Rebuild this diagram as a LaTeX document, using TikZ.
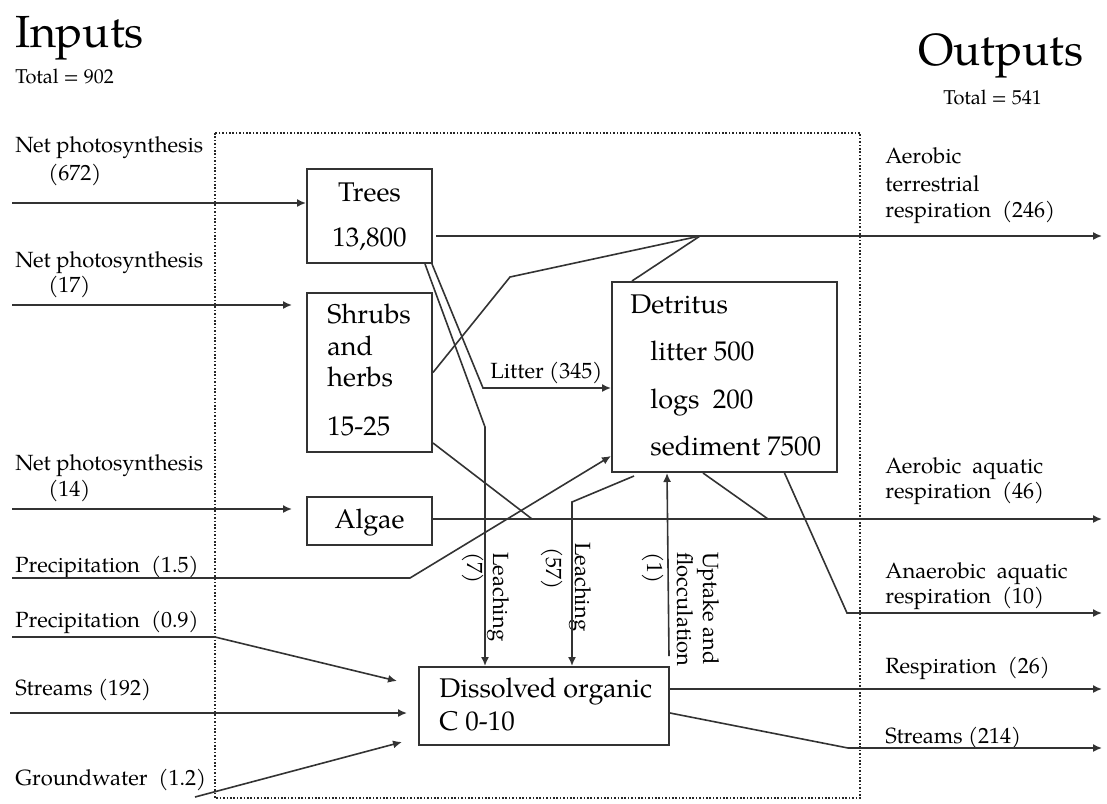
\documentclass[tikz,border=0pt]{standalone}
\usepackage{fontspec}
\setmainfont{texgyrepagella}[Extension=.otf, UprightFont=*-regular, BoldFont=*-bold, ItalicFont=*-italic, BoldItalicFont=*-bolditalic]
\usetikzlibrary{arrows.meta,calc}
\begin{document}
\begin{tikzpicture}[x=0.5pt,y=-0.5pt,
  line/.style={draw=black!80, line width=0.8pt},
  arr/.style={line, -{Latex[length=4.5pt,width=4pt]}},
  box/.style={draw=black!80, line width=1pt, inner sep=0pt, rectangle},
  lbl/.style={font=\fontsize{11}{13}\selectfont, anchor=base west, inner sep=0pt},
  boxtxt/.style={font=\fontsize{13.5}{16}\selectfont, inner sep=0pt},
  vlbl/.style={font=\fontsize{11}{13}\selectfont, rotate=-90, anchor=base west, inner sep=0pt},
]
\useasboundingbox (0,0) rectangle (1107,803);

% titles
\node[font=\fontsize{22.5}{26}\selectfont, anchor=base west, inner sep=0pt] (inputs) at (15,47) {Inputs};
\node[font=\fontsize{10}{12}\selectfont, anchor=base west, inner sep=0pt] (intot) at (15,83) {Total = 902};
\node[font=\fontsize{22.5}{26}\selectfont, anchor=base west, inner sep=0pt] (outputs) at (918,65) {Outputs};
\node[font=\fontsize{10}{12}\selectfont, anchor=base west, inner sep=0pt] (outtot) at (943,104) {Total = 541};

% system boundary
\draw[dash pattern=on 0.8pt off 0.9pt, line width=1.1pt, black!85] (215,133) rectangle (860,798);

% boxes
\node[box, minimum width=62.5pt, minimum height=47pt] (trees) at (369.5,216) {};
\node[box, minimum width=62.5pt, minimum height=79.5pt] (shrubs) at (369.5,372.5) {};
\node[box, minimum width=62.5pt, minimum height=24pt] (algae) at (369.5,521) {};
\node[box, minimum width=112.5pt, minimum height=95pt] (detritus) at (724.5,377) {};
\node[box, minimum width=125pt, minimum height=39pt] (doc) at (544,706) {};

% box texts
\node[boxtxt] (treesT) at (369.5,192) {Trees};
\node[boxtxt, anchor=base] (treesN) at (369.5,246) {13,800};
\node[boxtxt, anchor=base west] (shT1) at (327,323) {Shrubs};
\node[boxtxt, anchor=base west] (shT2) at (327,355) {and};
\node[boxtxt, anchor=base west] (shT3) at (327,386) {herbs};
\node[boxtxt, anchor=base west] (shT4) at (327,435) {15-25};
\node[boxtxt, anchor=base] (algT) at (369.5,528) {Algae};
\node[boxtxt, anchor=base west] (deT1) at (630,313) {Detritus};
\node[boxtxt, anchor=base west] (deT2) at (650,360) {litter 500};
\node[boxtxt, anchor=base west] (deT3) at (650,408) {logs\ \ 200};
\node[boxtxt, anchor=base west] (deT4) at (650,455) {sediment 7500};
\node[boxtxt, anchor=base west] (docT1) at (439,697) {Dissolved organic};
\node[boxtxt, anchor=base west] (docT2) at (439,730) {C 0-10};

% input labels
\node[lbl] (l1a) at (15,152) {Net photosynthesis};
\node[lbl] (l1b) at (48,180) {(672)};
\node[lbl] (l2a) at (15,267) {Net photosynthesis};
\node[lbl] (l2b) at (48,292) {(17)};
\node[lbl] (l3a) at (15,470) {Net photosynthesis};
\node[lbl] (l3b) at (48,496) {(14)};
\node[lbl] (l4) at (15,572) {Precipitation\ \ (1.5)};
\node[lbl] (l5) at (15,627) {Precipitation\ \ (0.9)};
\node[lbl] (l6) at (15,695) {Streams (192)};
\node[lbl] (l7) at (15,785) {Groundwater\ \ (1.2)};

% output labels
\node[lbl] (o1a) at (885,163) {Aerobic};
\node[lbl] (o1b) at (885,191) {terrestrial};
\node[lbl] (o1c) at (885,217) {respiration\ \ (246)};
\node[lbl] (o2a) at (885,473) {Aerobic\ \ aquatic};
\node[lbl] (o2b) at (885,498) {respiration\ \ (46)};
\node[lbl] (o3a) at (885,578) {Anaerobic\ \ aquatic};
\node[lbl] (o3b) at (885,603) {respiration\ \ (10)};
\node[lbl] (o4) at (885,673) {Respiration\ \ (26)};
\node[lbl] (o5) at (885,743) {Streams (214)};

% internal labels
\node[lbl] (litter) at (490,378) {Litter (345)};
\node[vlbl] (le7a) at (467,552) {(7)};
\node[vlbl] (le7b) at (493,552) {Leaching};
\node[vlbl] (le57a) at (546,547) {(57)};
\node[vlbl] (le57b) at (575,542) {Leaching};
\node[vlbl] (up1) at (647,552) {(1)};
\node[vlbl] (up2) at (677,552) {flocculation};
\node[vlbl] (up3) at (703,552) {Uptake and};

% free ends
\coordinate (in1) at (12,203);
\coordinate (in2) at (12,305);
\coordinate (in3) at (12,509);
\coordinate (in4) at (12,578);
\coordinate (in5) at (12,637);
\coordinate (in6) at (10,713);
\coordinate (in7) at (195,797);
\coordinate (out1) at (1102,236);
\coordinate (out2) at (1102,519);
\coordinate (out3) at (1102,613);
\coordinate (out4) at (1102,689);
\coordinate (out5) at (1102,748);
\coordinate (j1) at (700,236);

% inputs
\draw[arr] (in1) -- (in1 -| trees.west);
\draw[arr, shorten >=7pt] (in2) -- (in2 -| shrubs.west);
\draw[arr, shorten >=7pt] (in3) -- (in3 -| algae.west);
\draw[arr] (in4) -- (410,578) -- ($(detritus.south west)+(0,-17)$);
\draw[arr] (in5) -- (215,637) -- ($(doc.north west)+(-21,15)$);
\draw[arr, shorten >=5.5pt] (in6) -- (in6 -| doc.west);
\draw[arr] (in7) -- ($(doc.south west)+(-16,-4)$);

% internal flows and outputs
\draw[arr] ($(trees.east)+(3,20)$) -- (out1);
\draw[line] (shrubs.east) -- (510,277) -- (j1);
\draw[line] ($(detritus.north west)+(21,0)$) -- (j1);
\draw[arr] ($(trees.south east)+(-1,0)$) -- (483,388) -- ($(detritus.west)+(0,11)$);
\draw[arr] ($(trees.south east)+(-8,0)$) -- (485,427) -- ($(doc.north)+(-59,0)$);
\draw[line] ($(shrubs.south east)+(0,-10)$) -- (532,519);
\draw[arr] ($(algae.east)+(0,-2)$) -- (out2);
\draw[line] ($(detritus.south)+(-21.5,0)$) -- (768,519);
\draw[arr] ($(detritus.south)+(60,0)$) -- (847,613) -- (out3);
\draw[arr] ($(detritus.south west)+(23,3)$) -- (572,502) -- ($(doc.north)+(28,0)$);
\draw[arr] ($(doc.north east)+(-1,-10)$) -- ($(detritus.south west)+(56,0)$);
\draw[arr] ($(doc.east)+(0,-17)$) -- (out4);
\draw[arr] ($(doc.east)+(0,7)$) -- (848,748) -- (out5);
\end{tikzpicture}
\end{document}
